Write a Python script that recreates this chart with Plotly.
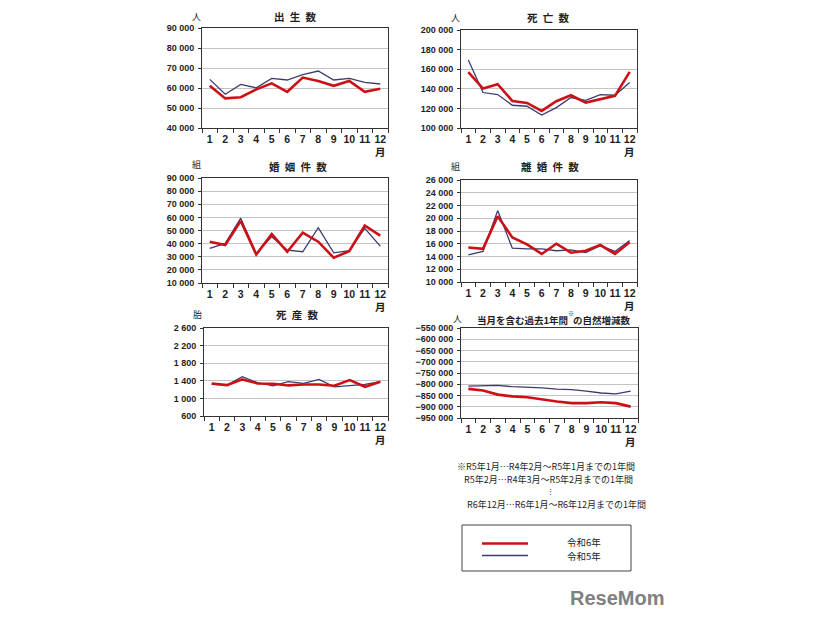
import plotly.graph_objects as go

# ---------------- data ----------------
months = list(range(1, 13))
month_labels = [str(m) for m in months]

births_r6 = [61100, 54800, 55400, 59300, 62300, 58100, 65200, 63500, 61100, 63500, 58100, 59600]
births_r5 = [64300, 56900, 61800, 60100, 64800, 64000, 66700, 68500, 64000, 64800, 62800, 62000]

deaths_r6 = [157000, 140300, 144700, 127600, 125600, 117400, 127300, 133400, 125900, 129700, 132800, 157300]
deaths_r5 = [169300, 136200, 134100, 123200, 122200, 113300, 120800, 131100, 128300, 134100, 133400, 146400]

marriages_r6 = [41500, 38900, 57300, 31700, 47300, 33800, 48400, 41500, 29200, 34300, 53700, 46100]
marriages_r5 = [36300, 40200, 59400, 32500, 45300, 35100, 33800, 52200, 33000, 34600, 51700, 38100]

divorces_r6 = [15400, 15200, 20300, 17000, 15900, 14400, 16000, 14600, 14900, 15800, 14400, 16250]
divorces_r5 = [14270, 14800, 21200, 15300, 15200, 15200, 14900, 15050, 14600, 15700, 14800, 16500]

stillbirths_r6 = [1340, 1302, 1432, 1340, 1333, 1295, 1317, 1317, 1287, 1417, 1264, 1379]
stillbirths_r5 = [1317, 1302, 1493, 1356, 1287, 1379, 1340, 1432, 1264, 1287, 1317, 1379]

natural_r6 = [-820500, -828000, -846000, -854000, -858000, -869000, -877000, -884000, -884000, -880000, -884000, -899500]
natural_r5 = [-808000, -808000, -805000, -811000, -813000, -816000, -822000, -823500, -831000, -839000, -843000, -831000]

series_names = ["令和6年", "令和5年"]
note_lines = [
    "※R5年1月…R4年2月～R5年1月までの1年間",
    "R5年2月…R4年3月～R5年2月までの1年間",
    "⋮",
    "R6年12月…R6年1月～R6年12月までの1年間",
]

# ---------------- layout helpers ----------------
W, H = 826, 620
OFF = 8  # page body margin
def fx(x): return (x - OFF) / W
def fy(y): return 1 - (y - OFF) / H

RED = "#cc1016"
NAVY = "#3b3b70"
TXT = "#1e1e1e"
FONT = "Liberation Sans"
JFONT = "Noto Sans CJK JP"
SP = "\u2002"

panels = [
    dict(title=SP.join("出生数"), unit="人", r6=births_r6, r5=births_r5, yr=[40000, 90000], dt=10000,
         box=(202, 28, 388, 128), tpos=(295, 16), upos=(196, 16), mdy=23),
    dict(title=SP.join("死亡数"), unit="人", r6=deaths_r6, r5=deaths_r5, yr=[100000, 200000], dt=20000,
         box=(461, 30, 637, 128), tpos=(548, 17), upos=(455, 17), mdy=23),
    dict(title=SP.join("婚姻件数"), unit="組", r6=marriages_r6, r5=marriages_r5, yr=[10000, 90000], dt=10000,
         box=(202, 178, 388, 283), tpos=(298, 166), upos=(196, 165), mdy=23),
    dict(title=SP.join("離婚件数"), unit="組", r6=divorces_r6, r5=divorces_r5, yr=[10000, 26000], dt=2000,
         box=(461, 180, 637, 282), tpos=(550, 166), upos=(455, 166), mdy=23),
    dict(title=SP.join("死産数"), unit="胎", r6=stillbirths_r6, r5=stillbirths_r5, yr=[600, 2600], dt=400,
         box=(204, 328, 388, 416), tpos=(297, 314), upos=(197, 314), mdy=23),
    dict(title=None, unit="人", r6=natural_r6, r5=natural_r5,
         yr=[-950000, -550000], dt=50000,
         box=(461, 328, 638, 418), tpos=None, upos=(457, 318), mdy=23),
]
title6_left = "当月を含む過去1年間"
title6_mark = "※"
title6_right = "の自然増減数"

fig = go.Figure()
layout = dict(
    template="none",
    width=W, height=H, margin=dict(l=0, r=0, t=0, b=0, pad=0), autosize=False,
    paper_bgcolor="white", plot_bgcolor="white",
    separators=". ", showlegend=False,
    annotations=[], shapes=[],
)

def ann(text, x, y, size, xanchor="center", bold=False, family=JFONT, color=TXT, xref="paper"):
    layout["annotations"].append(dict(
        text=text, x=x if xref != "paper" else fx(x), y=fy(y), xref=xref, yref="paper",
        xanchor=xanchor, yanchor="middle", showarrow=False,
        font=dict(family=family, size=size, color=color, weight="bold" if bold else "normal")))

for i, p in enumerate(panels):
    n = "" if i == 0 else str(i + 1)
    xa, ya = "x" + n, "y" + n
    x0, y0, x1, y1 = p["box"]
    fig.add_trace(go.Scatter(x=months, y=p["r5"], mode="lines", name=series_names[1],
                             line=dict(color=NAVY, width=1.3), xaxis=xa, yaxis=ya))
    fig.add_trace(go.Scatter(x=months, y=p["r6"], mode="lines", name=series_names[0],
                             line=dict(color=RED, width=2.6), xaxis=xa, yaxis=ya))
    layout["xaxis" + n] = dict(
        domain=[fx(x0), fx(x1)], anchor=ya, range=[0.5, 12.5], automargin=False,
        tickmode="array", tickvals=months, ticktext=month_labels, ticks="",
        minor=dict(tickvals=[m + 0.5 for m in range(0, 13)], ticks="outside", ticklen=4,
                   tickcolor="#333", showgrid=False),
        ticklabelstandoff=1,
        showline=True, linecolor="#333", linewidth=1, mirror=True, showgrid=False, zeroline=False,
        tickfont=dict(family=FONT, size=10.5, color=TXT, weight="bold"), fixedrange=True,
    )
    layout["yaxis" + n] = dict(
        domain=[fy(y1), fy(y0)], anchor=xa, range=p["yr"], dtick=p["dt"], tick0=p["yr"][0],
        automargin=False,
        tickmode="linear", tickformat=",d", ticks="outside", ticklen=3, tickcolor="#333",
        ticklabelstandoff=2,
        showline=True, linecolor="#333", linewidth=1, mirror=True,
        showgrid=True, gridcolor="#c4c4c4", gridwidth=1, zeroline=False,
        tickfont=dict(family=FONT, size=9, color=TXT, weight="bold"), fixedrange=True,
    )
    if p["title"]:
        ann(p["title"], p["tpos"][0], p["tpos"][1], 10.5, bold=True)
    ann(p["unit"], p["upos"][0], p["upos"][1], 9)
    ann("月", 12, y1 + p["mdy"], 10.5, bold=True, xref=xa)

# long title of panel 6
ann(title6_left, 475, 320, 9.5, xanchor="left", bold=True)
ann(title6_mark, 571, 313, 6)
ann(title6_right, 633, 320, 9.5, xanchor="right", bold=True)

# notes
note_pos = [(455, 466), (462, 479), (550, 491), (465, 504)]
note_size = [9, 9, 7, 9]
for t, (x, y), s in zip(note_lines, note_pos, note_size):
    ann(t, x, y, s, xanchor="center" if t == "⋮" else "left")

# legend box
layout["shapes"].append(dict(type="rect", xref="paper", yref="paper",
                             x0=fx(462), x1=fx(631), y0=fy(571), y1=fy(525),
                             line=dict(color="#444", width=1), fillcolor="rgba(0,0,0,0)"))
layout["shapes"].append(dict(type="line", xref="paper", yref="paper",
                             x0=fx(482), x1=fx(528), y0=fy(543.5), y1=fy(543.5),
                             line=dict(color=RED, width=2.6)))
layout["shapes"].append(dict(type="line", xref="paper", yref="paper",
                             x0=fx(482), x1=fx(528), y0=fy(555.5), y1=fy(555.5),
                             line=dict(color=NAVY, width=1.3)))
for t, y in zip(series_names, [541.5, 555.5]):
    ann(t, 565, y, 9.5, xanchor="left")

# watermark
ann("ReseMom", 617, 598, 20, bold=True, family=FONT, color="#808080")

fig.update_layout(**layout)
fig.write_html("out.html")
